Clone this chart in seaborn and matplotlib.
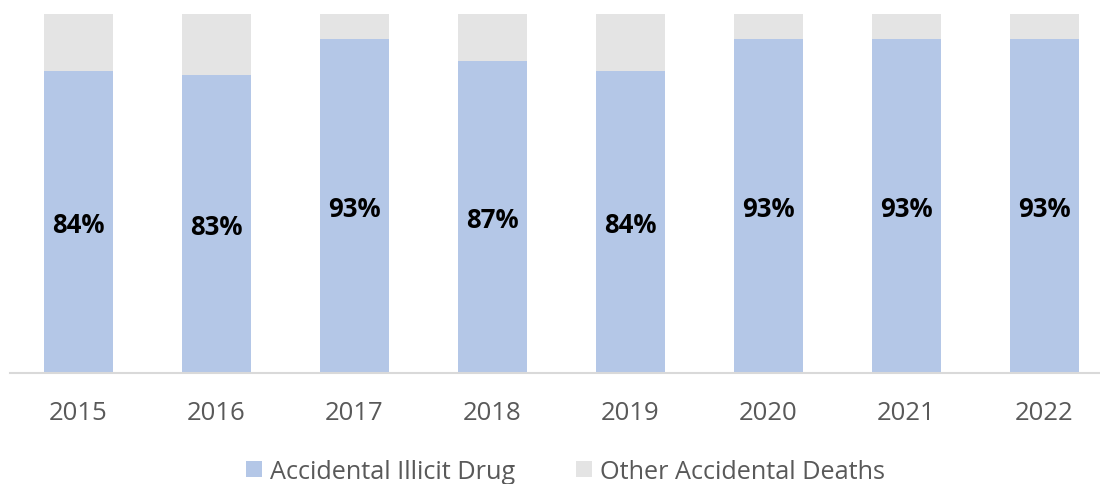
import matplotlib
matplotlib.use("Agg")
import matplotlib.pyplot as plt
from matplotlib.patches import Patch
import seaborn as sns
import pandas as pd

years = ["2015", "2016", "2017", "2018", "2019", "2020", "2021", "2022"]
illicit_pct = [84, 83, 93, 87, 84, 93, 93, 93]
series_names = ["Accidental Illicit Drug", "Other Accidental Deaths"]

BLUE = "#B4C7E7"
GREY = "#E4E4E4"
TEXT = "#595959"

sns.set_theme(style="white")
plt.rcParams["font.family"] = ["Open Sans", "DejaVu Sans"]

df = pd.DataFrame({"year": years, "illicit": [v / 100 for v in illicit_pct]})
df["total"] = 1.0

fig = plt.figure(figsize=(11, 4.85), dpi=100)
ax = fig.add_axes([9.5 / 1100, 111.5 / 485, 1104 / 1100, 358.5 / 485])

# whole bar (100%) in grey, illicit-drug share drawn over it in blue
sns.barplot(data=df, x="year", y="total", color=GREY, width=0.5,
            saturation=1, ax=ax, linewidth=0)
sns.barplot(data=df, x="year", y="illicit", color=BLUE, width=0.5,
            saturation=1, ax=ax, linewidth=0)

for i, v in enumerate(illicit_pct):
    ax.text(i, v / 100 / 2, f"{v}%", ha="center", va="center_baseline",
            fontsize=18.5, fontweight="bold", color="black")

ax.set_xlim(-0.5, len(years) - 0.5)
ax.set_ylim(0, 1)
ax.set_xlabel("")
ax.set_ylabel("")
ax.set_yticks([])
for side in ["top", "left", "right"]:
    ax.spines[side].set_visible(False)
ax.spines["bottom"].set_color("#D9D9D9")
ax.spines["bottom"].set_linewidth(1.5)
ax.tick_params(axis="x", length=0, pad=20, labelsize=18.5, labelcolor=TEXT)

handles = [Patch(facecolor=BLUE, edgecolor="none"),
           Patch(facecolor=GREY, edgecolor="none")]
fig.legend(handles, series_names, loc="center", bbox_to_anchor=(0.514, 0.026),
           ncol=2, frameon=False, fontsize=18.2, labelcolor=TEXT,
           handlelength=0.65, handleheight=0.65, handletextpad=0.3,
           columnspacing=2.4)

fig.savefig("out.png", dpi=100)
